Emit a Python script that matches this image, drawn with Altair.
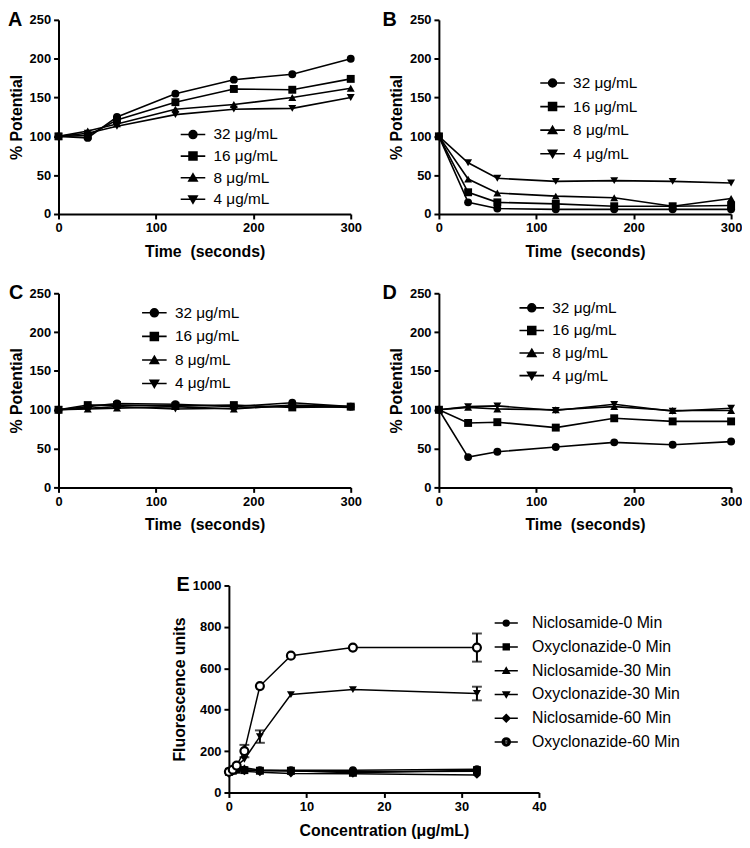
import altair as alt
import pandas as pd

FONT = "Liberation Sans"

# ---------------- data ----------------
times = [0, 30, 60, 120, 180, 240, 300]
conc_labels = ["32 μg/mL", "16 μg/mL", "8 μg/mL", "4 μg/mL"]

a_32 = [100, 98, 125, 155, 173, 180, 200]
a_16 = [100, 101, 121, 144, 161, 160, 174]
a_8 = [100, 107, 116, 135, 141, 150, 162]
a_4 = [100, 104, 113, 128, 135, 136, 150]

b_32 = [100, 15, 7, 6, 6, 6, 6]
b_16 = [100, 28, 15, 13, 10, 10, 11]
b_8 = [100, 45, 27, 23, 21, 10, 20]
b_4 = [100, 66, 46, 42, 43, 42, 40]

c_32 = [100, 104, 108, 107, 104, 109, 104]
c_16 = [100, 106, 106, 105, 106, 103, 104]
c_8 = [100, 101, 102, 104, 101, 106, 104]
c_4 = [100, 102, 104, 101, 102, 105, 103]

d_32 = [100, 39, 46, 52, 58, 55, 59]
d_16 = [100, 83, 84, 77, 89, 85, 85]
d_8 = [100, 103, 101, 100, 104, 99, 99]
d_4 = [100, 104, 105, 99, 107, 98, 102]

e_conc = [0, 0.5, 1, 2, 4, 8, 16, 32]
e_names = ["Niclosamide-0 Min", "Oxyclonazide-0 Min", "Niclosamide-30 Min",
           "Oxyclonazide-30 Min", "Niclosamide-60 Min", "Oxyclonazide-60 Min"]
e_nic0 = [100, 110, 115, 110, 108, 108, 108, 112]
e_oxy0 = [100, 105, 110, 108, 105, 105, 95, 108]
e_nic30 = [100, 118, 128, 120, 108, 104, 100, 102]
e_oxy30 = [100, 110, 130, 160, 270, 473, 497, 478]
e_nic60 = [90, 100, 108, 102, 98, 92, 90, 85]
e_oxy60 = [100, 110, 130, 200, 514, 661, 700, 700]
e_oxy30_err = [0, 0, 0, 0, 30, 0, 0, 33]
e_oxy60_err = [0, 0, 0, 30, 0, 0, 0, 68]


def long_df(xs, names, values):
    rows = []
    for name, vals in zip(names, values):
        for xv, yv in zip(xs, vals):
            rows.append({"x": xv, "y": yv, "series": name})
    return pd.DataFrame(rows)


# ---------------- symbols ----------------
CIRCLE = "M-1,0A1,1,0,1,0,1,0A1,1,0,1,0,-1,0Z"
SQUARE = "M-1,-1H1V1H-1Z"
TRI_UP = "M0,-0.95L1.05,0.85L-1.05,0.85Z"
TRI_DOWN = "M0,0.95L1.05,-0.85L-1.05,-0.85Z"
DIAMOND = "M0,-1.25L1.25,0L0,1.25L-1.25,0Z"
RING = ("M-1.35,0A1.35,1.35,0,1,1,1.35,0A1.35,1.35,0,1,1,-1.35,0Z"
        "M-0.75,0A0.75,0.75,0,1,0,0.75,0A0.75,0.75,0,1,0,-0.75,0Z")


def with_line(path, half):
    return "M%s,0H%s" % (-half, half) + path


STD4 = ["circle", "square", "triangle-up", "triangle-down"]
LEG4 = [with_line(p, 3.1) for p in [CIRCLE, SQUARE, TRI_UP, TRI_DOWN]]
STD6 = ["circle", "square", "triangle-up", "triangle-down", "diamond"]
LEG6 = [with_line(p, 3.9) for p in [CIRCLE, SQUARE, TRI_UP, TRI_DOWN, DIAMOND, RING]]


def letter_layer(letter, lx, ly):
    return alt.Chart(pd.DataFrame({"t": [letter]})).mark_text(
        font=FONT, fontSize=20, fontWeight="bold", color="black",
        align="left", baseline="alphabetic"
    ).encode(text="t:N", x=alt.value(lx), y=alt.value(ly))


def time_panel(vals, letter, lx, ly, legx, legy, rowpad):
    df = long_df(times, conc_labels, vals)
    xe = alt.X("x:Q", scale=alt.Scale(domain=[0, 300], nice=False),
               axis=alt.Axis(values=[0, 100, 200, 300], title="Time \u00a0(seconds)"))
    ye = alt.Y("y:Q", scale=alt.Scale(domain=[0, 250], nice=False),
               axis=alt.Axis(values=[0, 50, 100, 150, 200, 250], title="% Potential"))
    base = alt.Chart(df)
    layers = [base.mark_line(color="black", strokeWidth=1.6).encode(
        x=xe, y=ye, detail="series:N")]
    for name, shp in zip(conc_labels, STD4):
        layers.append(base.transform_filter(alt.datum.series == name).mark_point(
            shape=shp, filled=True, color="black", size=64, opacity=1).encode(x=xe, y=ye))
    layers.append(base.transform_filter("false").mark_point(
        filled=False, fill="black", stroke="black", strokeWidth=1.6, size=64, opacity=1).encode(
        shape=alt.Shape("series:N", scale=alt.Scale(domain=conc_labels, range=LEG4),
                        legend=alt.Legend(orient="none", legendX=legx, legendY=legy, title=None,
                                          labelFont=FONT, labelFontSize=15.5, labelColor="black",
                                          symbolSize=64, symbolStrokeWidth=1.6,
                                          symbolOpacity=1, rowPadding=rowpad, labelOffset=13,
                                          padding=0))))
    layers.append(letter_layer(letter, lx, ly))
    return alt.layer(*layers).properties(width=295, height=196)


panel_a = time_panel([a_32, a_16, a_8, a_4], "A", -51, 6, 128, 108, 4.8)
panel_b = time_panel([b_32, b_16, b_8, b_4], "B", -57, 6, 107, 56, 6.8)
panel_c = time_panel([c_32, c_16, c_8, c_4], "C", -50, 6, 89, 12, 6.8)
panel_d = time_panel([d_32, d_16, d_8, d_4], "D", -57, 6, 86, 7, 5.8)

# ---------------- panel E ----------------
edf = long_df(e_conc, e_names, [e_nic0, e_oxy0, e_nic30, e_oxy30, e_nic60, e_oxy60])
err_rows = []
for name, vals, errs in [(e_names[3], e_oxy30, e_oxy30_err), (e_names[5], e_oxy60, e_oxy60_err)]:
    for xv, yv, ev in zip(e_conc, vals, errs):
        if ev > 0:
            err_rows.append({"x": xv, "lo": yv - ev, "hi": yv + ev})
errdf = pd.DataFrame(err_rows)

exe = alt.X("x:Q", scale=alt.Scale(domain=[0, 40], nice=False),
            axis=alt.Axis(values=[0, 10, 20, 30, 40], title="Concentration (μg/mL)"))
eye = alt.Y("y:Q", scale=alt.Scale(domain=[0, 1000], nice=False),
            axis=alt.Axis(values=[0, 200, 400, 600, 800, 1000], format="d",
                          title="Fluorescence units"))
ebase = alt.Chart(edf)
e_layers = [ebase.mark_line(color="black", strokeWidth=1.5).encode(x=exe, y=eye, detail="series:N")]
e_layers.append(alt.Chart(errdf).mark_rule(color="black", strokeWidth=2).encode(
    x="x:Q", y="lo:Q", y2="hi:Q"))
e_layers.append(alt.Chart(errdf).mark_tick(color="black", orient="horizontal", size=10, thickness=2).encode(
    x="x:Q", y="lo:Q"))
e_layers.append(alt.Chart(errdf).mark_tick(color="black", orient="horizontal", size=10, thickness=2).encode(
    x="x:Q", y="hi:Q"))
for name, shp in zip(e_names[:5], STD6):
    e_layers.append(ebase.transform_filter(alt.datum.series == name).mark_point(
        shape=shp, filled=True, color="black", size=64, opacity=1).encode(x=exe, y=eye))
e_layers.append(ebase.transform_filter(alt.datum.series == e_names[5]).mark_point(
    filled=False, shape="circle", fill="white", stroke="black", strokeWidth=2.2, size=64,
    opacity=1, fillOpacity=1).encode(x=exe, y=eye))
e_layers.append(ebase.transform_filter("false").mark_point(
    filled=False, fill="black", stroke="black", strokeWidth=1.5, size=36, opacity=1).encode(
    shape=alt.Shape("series:N", scale=alt.Scale(domain=e_names, range=LEG6),
                    legend=alt.Legend(orient="none", legendX=272, legendY=30, title=None,
                                      labelFont=FONT, labelFontSize=16, labelColor="black",
                                      symbolSize=36, symbolStrokeWidth=1.5,
                                      symbolOpacity=1, rowPadding=8, labelOffset=18,
                                      padding=0))))
e_layers.append(letter_layer("E", -53, 6))
panel_e = alt.layer(*e_layers).properties(width=313, height=209)

spacer = alt.Chart(pd.DataFrame({"a": [0]})).mark_text(text="").properties(width=114, height=1)

row1 = alt.hconcat(panel_a, panel_b, spacing=21).resolve_scale(shape="independent").resolve_legend(shape="independent")
row2 = alt.hconcat(panel_c, panel_d, spacing=21).resolve_scale(shape="independent").resolve_legend(shape="independent")
row3 = alt.hconcat(spacer, panel_e, spacing=0).resolve_scale(shape="independent").resolve_legend(shape="independent")
top = alt.vconcat(row1, row2, spacing=24).resolve_scale(shape="independent").resolve_legend(shape="independent")

chart = alt.vconcat(top, row3, spacing=43).resolve_scale(
    shape="independent").resolve_legend(shape="independent").properties(
    padding={"left": 0, "top": -2, "right": 0, "bottom": 0}
).configure_view(
    stroke=None
).configure_axis(
    domainColor="black", domainWidth=2, tickColor="black", tickWidth=2, tickSize=5,
    labelFont=FONT, labelFontSize=13, labelFontWeight="bold", labelColor="black",
    titleFont=FONT, titleFontSize=16, titleFontWeight="bold", titleColor="black",
    grid=False, labelPadding=3, labelFlush=False
).configure_axisY(titlePadding=5).configure_axisX(titlePadding=9)

chart.save("out.html", embed_options={"renderer": "svg", "actions": False})
